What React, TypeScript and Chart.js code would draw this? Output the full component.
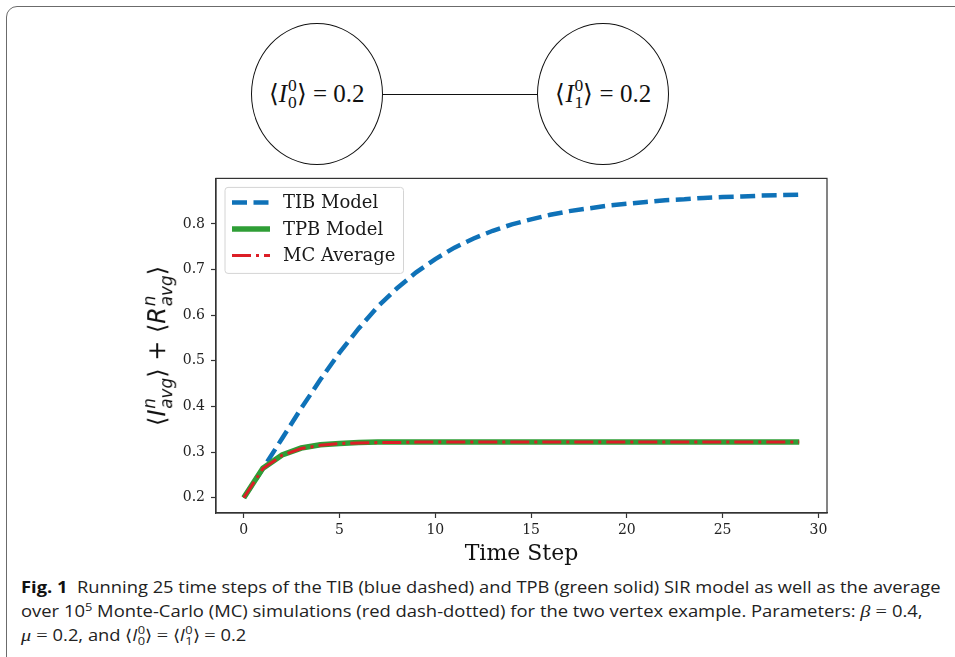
import React, { useEffect, useLayoutEffect, useRef } from "react";
import { Chart, registerables } from "chart.js";

Chart.register(...registerables);

// ---- data ----
const timeSteps = [0, 1, 2, 3, 4, 5, 6, 7, 8, 9, 10, 11, 12, 13, 14, 15, 16, 17, 18, 19, 20, 21, 22, 23, 24, 25, 26, 27, 28, 29];
const tibModel = [0.2, 0.264, 0.33, 0.396, 0.459, 0.518, 0.571, 0.619, 0.659, 0.694, 0.723, 0.748, 0.768, 0.785, 0.799, 0.81, 0.82, 0.828, 0.834, 0.84, 0.844, 0.848, 0.852, 0.854, 0.857, 0.859, 0.86, 0.862, 0.863, 0.864];
const tpbModel = [0.2, 0.265, 0.294, 0.309, 0.316, 0.319, 0.321, 0.322, 0.322, 0.322, 0.322, 0.322, 0.322, 0.322, 0.322, 0.322, 0.322, 0.322, 0.322, 0.322, 0.322, 0.322, 0.322, 0.322, 0.322, 0.322, 0.322, 0.322, 0.322, 0.322];
const mcAverage = [0.2, 0.264, 0.293, 0.308, 0.315, 0.319, 0.32, 0.321, 0.321, 0.322, 0.322, 0.322, 0.322, 0.322, 0.322, 0.322, 0.322, 0.322, 0.322, 0.322, 0.322, 0.322, 0.322, 0.322, 0.322, 0.322, 0.322, 0.322, 0.322, 0.322];
const xTicks = [0, 5, 10, 15, 20, 25, 30];
const yTicks = [0.2, 0.3, 0.4, 0.5, 0.6, 0.7, 0.8];
const seriesLabels = ["TIB Model", "TPB Model", "MC Average"];

const toPoints = (vals: number[]) => timeSteps.map((t, i) => ({ x: t, y: vals[i] }));

const legendPlugin = {
  id: "boxLegend",
  afterDraw(chart: any) {
    const { ctx, chartArea } = chart;
    const x0 = chartArea.left + 9;
    const y0 = chartArea.top + 9;
    ctx.save();
    ctx.font = '18px "DejaVu Serif"';
    const items = chart.data.datasets.map((ds: any) => ({
      label: ds.label,
      color: ds.borderColor,
      width: ds.borderWidth,
      dash: ds.borderDash || [],
    }));
    const textW = Math.max(...items.map((it: any) => ctx.measureText(it.label).width));
    const w = 58 + textW + 8;
    const h = 86;
    ctx.beginPath();
    ctx.roundRect(x0, y0, w, h, 3);
    ctx.fillStyle = "rgba(255,255,255,0.85)";
    ctx.fill();
    ctx.strokeStyle = "#d4d4d4";
    ctx.lineWidth = 1;
    ctx.stroke();
    items.forEach((it: any, i: number) => {
      const y = y0 + 15 + i * 26.5;
      ctx.beginPath();
      ctx.setLineDash(it.dash);
      ctx.strokeStyle = it.color;
      ctx.lineWidth = it.width;
      ctx.lineCap = "butt";
      ctx.moveTo(x0 + 7, y);
      ctx.lineTo(x0 + 45, y);
      ctx.stroke();
      ctx.setLineDash([]);
      ctx.fillStyle = "#1a1a1a";
      ctx.textBaseline = "middle";
      ctx.fillText(it.label, x0 + 58, y + 1);
    });
    ctx.restore();
  },
};

const boxPlugin = {
  id: "frameBox",
  afterDraw(chart: any) {
    const { ctx, chartArea } = chart;
    ctx.save();
    ctx.strokeStyle = "#333";
    ctx.lineWidth = 1.2;
    ctx.strokeRect(chartArea.left, chartArea.top, chartArea.right - chartArea.left, chartArea.bottom - chartArea.top);
    ctx.restore();
  },
};

const Scr = ({ sup, sub, italicSub }: { sup: string; sub: string; italicSub?: boolean }) => (
  <span
    style={{
      display: "inline-flex",
      flexDirection: "column",
      alignItems: "flex-start",
      verticalAlign: "0.62em",
      lineHeight: 1,
      fontSize: "0.7em",
      marginLeft: "0.05em",
    }}
  >
    <span style={{ fontStyle: italicSub ? "italic" : "normal" }}>{sup}</span>
    <span style={{ fontStyle: italicSub ? "italic" : "normal" }}>{sub}</span>
  </span>
);

function ChartBox() {
  const ref = useRef<HTMLCanvasElement | null>(null);
  useEffect(() => {
    if (!ref.current) return;
    const chart = new Chart(ref.current, {
      type: "line",
      data: {
        datasets: [
          {
            label: seriesLabels[0],
            data: toPoints(tibModel),
            borderColor: "#0f72b8",
            borderWidth: 4.5,
            borderDash: [15, 6.5],
            pointRadius: 0,
            tension: 0,
            fill: false,
            order: 2,
          },
          {
            label: seriesLabels[1],
            data: toPoints(tpbModel),
            borderColor: "#2f9e36",
            borderWidth: 5.5,
            pointRadius: 0,
            tension: 0,
            fill: false,
            order: 1,
          },
          {
            label: seriesLabels[2],
            data: toPoints(mcAverage),
            borderColor: "#dc1e26",
            borderWidth: 3,
            borderDash: [19, 5, 3, 5],
            pointRadius: 0,
            tension: 0,
            fill: false,
            order: 0,
          },
        ],
      },
      options: {
        animation: false,
        responsive: true,
        maintainAspectRatio: false,
        layout: { padding: { top: 6, right: 23, left: 0, bottom: 0 } },
        plugins: { legend: { display: false }, tooltip: { enabled: false }, title: { display: false } },
        scales: {
          x: {
            type: "linear",
            min: -1.45,
            max: 30.45,
            afterBuildTicks: (s: any) => {
              s.ticks = xTicks.map((v) => ({ value: v }));
            },
            afterFit: (s: any) => {
              s.height = 59;
            },
            grid: { display: true, drawOnChartArea: false, drawTicks: true, tickLength: 5, tickColor: "#333", tickWidth: 1.2 },
            border: { display: true, color: "#333", width: 1.2 },
            ticks: {
              font: { family: "DejaVu Serif", size: 14 },
              color: "#222",
              padding: 4,
              maxRotation: 0,
              autoSkip: false,
              callback: (v: any) => String(v),
            },
            title: {
              display: true,
              text: "Time Step",
              font: { family: "DejaVu Serif", size: 22 },
              color: "#111",
              padding: { top: 0, bottom: 5 },
            },
          },
          y: {
            type: "linear",
            min: 0.1667,
            max: 0.8997,
            afterBuildTicks: (s: any) => {
              s.ticks = yTicks.map((v) => ({ value: v }));
            },
            afterFit: (s: any) => {
              s.width = 76;
            },
            grid: { display: true, drawOnChartArea: false, drawTicks: true, tickLength: 5, tickColor: "#333", tickWidth: 1.2 },
            border: { display: true, color: "#333", width: 1.2 },
            ticks: {
              font: { family: "DejaVu Serif", size: 14 },
              color: "#222",
              padding: 6,
              autoSkip: false,
              callback: (v: any) => Number(v).toFixed(1),
            },
          },
        },
      },
      plugins: [boxPlugin, legendPlugin],
    } as any);
    return () => chart.destroy();
  }, []);
  return (
    <div style={{ position: "absolute", left: 140, top: 164, width: 710, height: 408 }}>
      <canvas ref={ref} />
    </div>
  );
}

const circleStyle = (cx: number): React.CSSProperties => ({
  position: "absolute",
  left: cx - 66,
  top: 94 - 71,
  width: 132,
  height: 142,
  borderRadius: "50%",
  border: "1.3px solid #111",
  boxSizing: "border-box",
  display: "flex",
  alignItems: "center",
  justifyContent: "center",
  fontFamily: '"Liberation Serif", serif',
  fontSize: 25,
  color: "#111",
  whiteSpace: "nowrap",
  background: "#fff",
});

const captionLine: React.CSSProperties = {
  position: "absolute",
  left: 21,
  fontFamily: '"Open Sans", sans-serif',
  fontSize: 16,
  lineHeight: "24px",
  color: "#222",
  whiteSpace: "nowrap",
  transformOrigin: "left center",
};

const mathFont: React.CSSProperties = { fontFamily: '"Liberation Serif", serif', fontSize: "1.1em" };

export default function App() {
  const l1 = useRef<HTMLDivElement | null>(null);
  const l2 = useRef<HTMLDivElement | null>(null);
  const l3 = useRef<HTMLDivElement | null>(null);
  useLayoutEffect(() => {
    const fit = (el: HTMLDivElement | null, target: number) => {
      if (!el) return 1;
      const w = el.scrollWidth;
      const s = w > 0 ? target / w : 1;
      el.style.transform = `scaleX(${s})`;
      return s;
    };
    const s1 = fit(l1.current, 920);
    fit(l2.current, 902);
    if (l3.current) l3.current.style.transform = `scaleX(${s1})`;
  }, []);

  return (
    <div style={{ position: "absolute", left: 0, top: 0, width: 955, height: 657, overflow: "hidden", background: "#fff" }}>
      <div
        style={{
          position: "absolute",
          left: 6,
          top: 6,
          width: 1010,
          height: 720,
          border: "1.5px solid #6b6b6b",
          borderRadius: 11,
          boxSizing: "border-box",
        }}
      />
      {/* two-vertex graph */}
      <div style={{ position: "absolute", left: 383, top: 93.5, width: 154, height: 1.3, background: "#111" }} />
      <div style={circleStyle(316.7)}>
        <span>
          ⟨<i>I</i>
          <Scr sup="0" sub="0" />⟩{"\u2005"}={"\u2005"}0.2
        </span>
      </div>
      <div style={circleStyle(603.3)}>
        <span>
          ⟨<i>I</i>
          <Scr sup="0" sub="1" />⟩{"\u2005"}={"\u2005"}0.2
        </span>
      </div>

      <ChartBox />

      {/* y axis label */}
      <div
        style={{
          position: "absolute",
          left: 158,
          top: 346,
          transform: "translate(-50%,-50%) rotate(-90deg)",
          fontFamily: '"DejaVu Sans", sans-serif',
          fontSize: 24,
          color: "#111",
          whiteSpace: "nowrap",
        }}
      >
        ⟨<i>I</i>
        <Scr sup="n" sub="avg" italicSub />⟩ + ⟨<i>R</i>
        <Scr sup="n" sub="avg" italicSub />⟩
      </div>

      {/* caption */}
      <div ref={l1} style={{ ...captionLine, top: 575 }}>
        <b style={{ fontWeight: 700, color: "#111" }}>Fig. 1</b>
        {"\u00a0\u00a0"}Running 25 time steps of the TIB (blue dashed) and TPB (green solid) SIR model as well as the average
      </div>
      <div ref={l2} style={{ ...captionLine, top: 599 }}>
        over 10<sup style={{ fontSize: "0.7em", lineHeight: 0 }}>5</sup> Monte-Carlo (MC) simulations (red dash-dotted) for the two
        vertex example. Parameters: <span style={mathFont}><i>β</i> = </span>0.4,
      </div>
      <div ref={l3} style={{ ...captionLine, top: 623 }}>
        <span style={mathFont}><i>μ</i> = </span>0.2, and ⟨<i>I</i>
        <Scr sup="0" sub="0" />⟩ <span style={mathFont}>=</span> ⟨<i>I</i>
        <Scr sup="0" sub="1" />⟩ <span style={mathFont}>=</span> 0.2
      </div>
    </div>
  );
}
